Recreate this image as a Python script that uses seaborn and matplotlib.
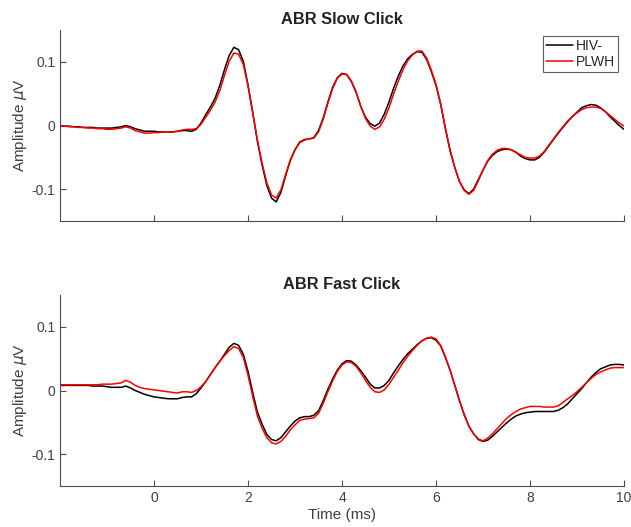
import numpy as np
import pandas as pd
import matplotlib
matplotlib.use('Agg')
import matplotlib.pyplot as plt
import seaborn as sns

# time axis (ms), one sample every 0.1 ms from -2 to 10
tiempo = np.round(np.arange(-2.0, 10.05, 0.1), 1)

# ABR Slow Click
slow_hiv = [
    0.000, -0.001, -0.001, -0.002, -0.002, -0.003, -0.003, -0.003, -0.004, -0.004,
    -0.004, -0.004, -0.003, -0.002, 0.000, -0.002, -0.005, -0.007, -0.009, -0.009,
    -0.009, -0.010, -0.010, -0.010, -0.010, -0.009, -0.008, -0.008, -0.009, -0.006,
    0.004, 0.017, 0.029, 0.043, 0.063, 0.088, 0.110, 0.123, 0.119, 0.101,
    0.064, 0.021, -0.025, -0.062, -0.094, -0.114, -0.120, -0.105, -0.079, -0.055,
    -0.038, -0.026, -0.022, -0.021, -0.019, -0.008, 0.012, 0.037, 0.060, 0.075,
    0.082, 0.080, 0.069, 0.052, 0.030, 0.013, 0.003, -0.001, 0.004, 0.018,
    0.037, 0.059, 0.078, 0.094, 0.105, 0.112, 0.116, 0.115, 0.104, 0.085,
    0.063, 0.033, -0.005, -0.040, -0.066, -0.088, -0.101, -0.107, -0.100, -0.085,
    -0.070, -0.056, -0.047, -0.041, -0.038, -0.037, -0.038, -0.042, -0.048, -0.052,
    -0.054, -0.054, -0.050, -0.042, -0.032, -0.022, -0.012, -0.003, 0.006, 0.014,
    0.021, 0.028, 0.031, 0.033, 0.032, 0.028, 0.022, 0.014, 0.007, 0.000,
    -0.006,
]
slow_plwh = [
    0.000, -0.001, -0.002, -0.002, -0.003, -0.003, -0.004, -0.004, -0.005, -0.005,
    -0.006, -0.006, -0.005, -0.004, -0.002, -0.004, -0.008, -0.010, -0.012, -0.012,
    -0.011, -0.011, -0.010, -0.010, -0.010, -0.009, -0.007, -0.006, -0.006, -0.005,
    0.002, 0.013, 0.024, 0.037, 0.055, 0.079, 0.101, 0.114, 0.112, 0.096,
    0.062, 0.020, -0.023, -0.059, -0.090, -0.109, -0.114, -0.101, -0.077, -0.054,
    -0.038, -0.027, -0.023, -0.021, -0.020, -0.010, 0.010, 0.035, 0.058, 0.074,
    0.081, 0.080, 0.070, 0.053, 0.030, 0.011, -0.001, -0.006, -0.002, 0.010,
    0.028, 0.050, 0.070, 0.088, 0.102, 0.111, 0.117, 0.117, 0.106, 0.087,
    0.065, 0.034, -0.004, -0.038, -0.066, -0.088, -0.102, -0.108, -0.102, -0.087,
    -0.070, -0.055, -0.045, -0.039, -0.036, -0.036, -0.038, -0.042, -0.046, -0.050,
    -0.051, -0.051, -0.048, -0.041, -0.031, -0.021, -0.011, -0.002, 0.007, 0.014,
    0.020, 0.025, 0.028, 0.029, 0.029, 0.027, 0.022, 0.016, 0.010, 0.004,
    -0.001,
]

# ABR Fast Click
fast_hiv = [
    0.008, 0.008, 0.008, 0.008, 0.008, 0.008, 0.008, 0.007, 0.007, 0.007,
    0.006, 0.005, 0.005, 0.005, 0.007, 0.004, 0.000, -0.003, -0.006, -0.008,
    -0.010, -0.011, -0.012, -0.013, -0.013, -0.013, -0.011, -0.010, -0.010, -0.005,
    0.004, 0.014, 0.025, 0.036, 0.046, 0.057, 0.068, 0.074, 0.071, 0.057,
    0.030, -0.003, -0.034, -0.053, -0.069, -0.077, -0.079, -0.074, -0.065, -0.056,
    -0.048, -0.043, -0.041, -0.041, -0.039, -0.032, -0.016, 0.002, 0.018, 0.032,
    0.042, 0.047, 0.046, 0.040, 0.031, 0.021, 0.010, 0.004, 0.004, 0.008,
    0.016, 0.028, 0.039, 0.049, 0.058, 0.065, 0.072, 0.078, 0.082, 0.083,
    0.079, 0.070, 0.052, 0.032, 0.008, -0.016, -0.038, -0.056, -0.068, -0.077,
    -0.080, -0.078, -0.072, -0.065, -0.058, -0.051, -0.045, -0.040, -0.037, -0.035,
    -0.034, -0.033, -0.033, -0.033, -0.033, -0.033, -0.031, -0.027, -0.021, -0.013,
    -0.005, 0.003, 0.012, 0.021, 0.028, 0.034, 0.037, 0.040, 0.041, 0.041,
    0.040,
]
fast_plwh = [
    0.009, 0.009, 0.009, 0.009, 0.009, 0.009, 0.009, 0.009, 0.009, 0.010,
    0.010, 0.010, 0.011, 0.012, 0.016, 0.013, 0.008, 0.005, 0.003, 0.002,
    0.001, 0.000, -0.001, -0.002, -0.003, -0.004, -0.002, -0.002, -0.003, 0.000,
    0.006, 0.014, 0.025, 0.036, 0.046, 0.055, 0.063, 0.069, 0.066, 0.052,
    0.024, -0.009, -0.040, -0.059, -0.074, -0.082, -0.084, -0.080, -0.072, -0.062,
    -0.054, -0.047, -0.045, -0.044, -0.043, -0.036, -0.020, -0.002, 0.015, 0.030,
    0.040, 0.045, 0.044, 0.038, 0.028, 0.016, 0.005, -0.002, -0.003, 0.001,
    0.010, 0.021, 0.032, 0.044, 0.054, 0.063, 0.071, 0.078, 0.082, 0.084,
    0.081, 0.071, 0.053, 0.032, 0.008, -0.016, -0.038, -0.056, -0.068, -0.076,
    -0.079, -0.075, -0.068, -0.060, -0.052, -0.044, -0.038, -0.033, -0.029, -0.027,
    -0.025, -0.025, -0.025, -0.026, -0.026, -0.026, -0.024, -0.019, -0.013, -0.008,
    -0.002, 0.005, 0.012, 0.019, 0.025, 0.029, 0.032, 0.035, 0.036, 0.036,
    0.036,
]

grupos = ['HIV-', 'PLWH']
cores = {'HIV-': 'black', 'PLWH': 'red'}
xticks = [0, 2, 4, 6, 8, 10]
yticks = [-0.1, 0, 0.1]
ytick_labels = ['-0.1', '0', '0.1']


def montar_df(hiv, plwh):
    partes = []
    for g, vals in zip(grupos, [hiv, plwh]):
        partes.append(pd.DataFrame({'time': tiempo, 'amp': vals, 'group': g}))
    return pd.concat(partes, ignore_index=True)


sns.set_style('ticks')
plt.rcParams['font.family'] = ['Liberation Sans', 'DejaVu Sans']
plt.rcParams['xtick.direction'] = 'in'
plt.rcParams['ytick.direction'] = 'in'

cinza = '#4d4d4d'
texto = '#404040'

fig = plt.figure(figsize=(6.31, 5.27), dpi=100)
ax1 = fig.add_axes([0.0951, 0.5806, 0.8938, 0.3624])
ax2 = fig.add_axes([0.0951, 0.0778, 0.8938, 0.3624])

paineis = [
    (ax1, slow_hiv, slow_plwh, 'ABR Slow Click'),
    (ax2, fast_hiv, fast_plwh, 'ABR Fast Click'),
]

for ax, hiv, plwh, titulo in paineis:
    sns.lineplot(data=montar_df(hiv, plwh), x='time', y='amp', hue='group',
                 palette=cores, linewidth=1.1, ax=ax, legend=(ax is ax1),
                 solid_joinstyle='round', solid_capstyle='round')
    ax.set_xlim(-2, 10)
    ax.set_ylim(-0.15, 0.15)
    ax.set_xticks(xticks)
    ax.set_yticks(yticks)
    ax.set_yticklabels(ytick_labels)
    ax.set_title(titulo, fontsize=11.8, fontweight='bold', color='#222222', pad=4.3)
    ax.set_ylabel('Amplitude $\\mu$V', fontsize=11, color=texto, labelpad=2)
    ax.set_xlabel('')
    ax.tick_params(axis='both', colors=cinza, labelcolor=texto, labelsize=10,
                   length=4, width=0.8)
    for lado in ['top', 'right']:
        ax.spines[lado].set_visible(False)
    for lado in ['left', 'bottom']:
        ax.spines[lado].set_color(cinza)
        ax.spines[lado].set_linewidth(0.8)

ax1.tick_params(axis='x', labelbottom=False)
ax2.set_xlabel('Time (ms)', fontsize=11, color=texto, labelpad=2)

leg = ax1.legend(loc='upper right', frameon=True, fancybox=False, fontsize=10,
                 handlelength=1.95, handletextpad=0.2, borderpad=0.2,
                 labelspacing=0.15, borderaxespad=0.43, title=None)
leg.get_frame().set_edgecolor('#333333')
leg.get_frame().set_linewidth(0.8)
for t in leg.get_texts():
    t.set_color('#262626')

plt.savefig('out.png', dpi=100)
plt.close()
